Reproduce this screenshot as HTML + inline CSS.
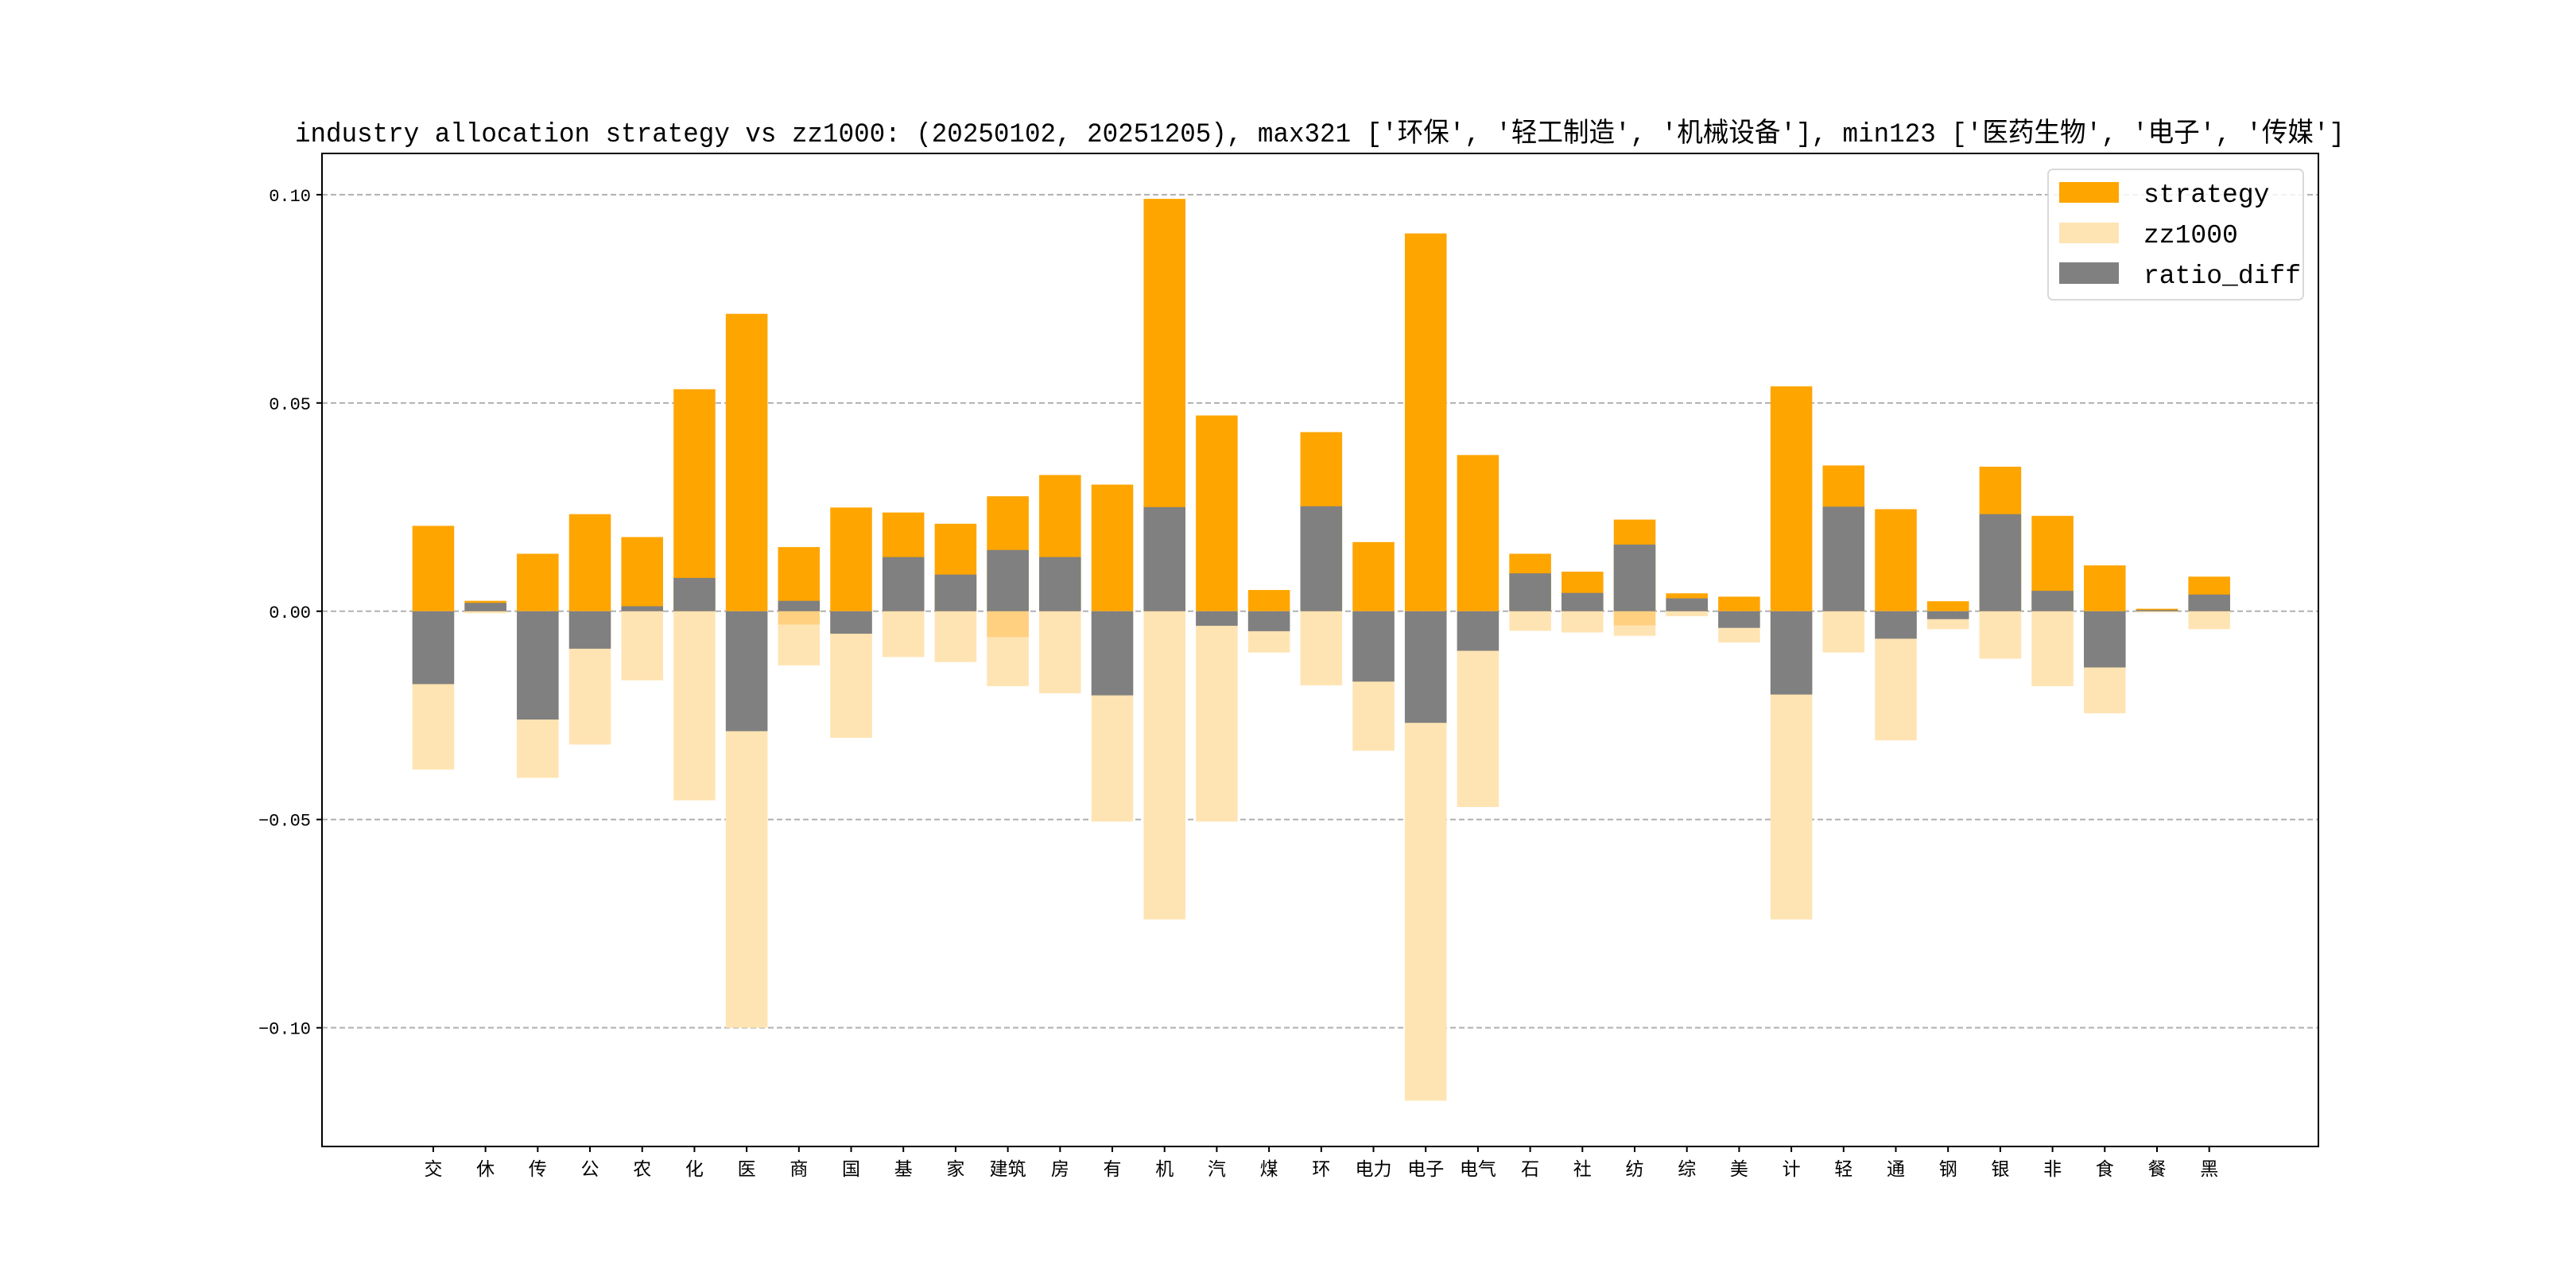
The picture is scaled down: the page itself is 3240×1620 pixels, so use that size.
<!DOCTYPE html>
<html><head><meta charset="utf-8">
<style>
html,body{margin:0;padding:0;background:#fff;}
svg{display:block;}
text{font-family:"Liberation Mono","Noto Sans CJK SC",monospace;}
</style></head>
<body>
<svg id="chart" width="3240" height="1620" viewBox="0 0 3240 1620" xmlns="http://www.w3.org/2000/svg">
<rect width="3240" height="1620" fill="#fff"/>
<text x="1660" y="178" text-anchor="middle" font-size="34" textLength="2578" lengthAdjust="spacingAndGlyphs">industry allocation strategy vs zz1000: (20250102, 20251205), max321 ['环保', '轻工制造', '机械设备'], min123 ['医药生物', '电子', '传媒']</text>
<g id="grid"></g>
<g id="bars"></g>
<g id="axes"></g>
<g>
<rect x="2576" y="213" width="321" height="164" rx="6" fill="#fff" fill-opacity="0.85" stroke="#d9d9d9" stroke-width="2"/>
<rect x="2590" y="229" width="75" height="26" fill="#FFA500"/>
<text x="2696" y="254" font-size="33">strategy</text>
<rect x="2590" y="280" width="75" height="26" fill="#FFE4B3"/>
<text x="2696" y="305" font-size="33">zz1000</text>
<rect x="2590" y="330" width="75" height="27" fill="#808080"/>
<text x="2696" y="356" font-size="33">ratio_diff</text>
</g>
</svg>
<script>
const categories = ["交","休","传","公","农","化","医","商","国","基","家","建筑","房","有","机","汽","煤","环","电力","电子","电气","石","社","纺","综","美","计","轻","通","钢","银","非","食","餐","黑"];
const strategyValues = [0.0205,0.0025,0.0138,0.0233,0.0178,0.0533,0.0714,0.0154,0.0249,0.0237,0.021,0.0276,0.0327,0.0304,0.099,0.047,0.0051,0.043,0.0166,0.0907,0.0375,0.0138,0.0095,0.022,0.0043,0.0035,0.054,0.035,0.0245,0.0024,0.0347,0.0229,0.011,0.0006,0.0083];
const zz1000Values = [0.038,0.0005,0.040,0.032,0.0166,0.0454,0.100,0.013,0.0304,0.011,0.0122,0.018,0.0197,0.0505,0.074,0.0505,0.0099,0.0178,0.0335,0.1175,0.047,0.0047,0.0051,0.0059,0.0012,0.0075,0.074,0.0099,0.031,0.0043,0.0114,0.018,0.0245,0.0003,0.0043];
const ratioDiffValues = [-0.0175,0.002,-0.026,-0.009,0.0012,0.008,-0.0288,0.0025,-0.0054,0.013,0.0088,0.0147,0.013,-0.0202,0.025,-0.0035,-0.0048,0.0252,-0.0169,-0.0268,-0.0095,0.0091,0.0044,0.016,0.0031,-0.004,-0.020,0.0251,-0.0066,-0.0019,0.0233,0.0049,-0.0135,0.0003,0.004];
const overlapValues = [0,0,0,0,0,0,0,0.0032,0,0,0,0.0062,0,0,0,0,0,0,0,0,0,0,0,0.0034,0,0,0,0,0,0,0,0,0,0,0];
const yTicks = [0.10,0.05,0.00,-0.05,-0.10];
const yTickLabels = ["0.10","0.05","0.00","−0.05","−0.10"];

const NS = "http://www.w3.org/2000/svg";
const L = 405, R = 2916, T = 193, B = 1442;
const xMin = -2.13, xMax = categories.length - 1 + 2.09;
const yMin = -0.1285, yMax = 0.1099;
function xs(i){ return L + (i - xMin) / (xMax - xMin) * (R - L); }
function ys(v){ return B - (v - yMin) / (yMax - yMin) * (B - T); }
function mk(tag, attrs, parent){ const e = document.createElementNS(NS, tag); for (const k in attrs) e.setAttribute(k, attrs[k]); parent.appendChild(e); return e; }

const grid = document.getElementById('grid');
const bars = document.getElementById('bars');
const axes = document.getElementById('axes');

yTicks.forEach((v, k) => {
  const gl = mk('line', {x1:L, x2:R, y1:ys(v), y2:ys(v), stroke:'#b0b0b0', 'stroke-width':2, 'stroke-dasharray':'7,4'}, grid);
  
  
  const tk = mk('line', {x1:L-7, x2:L, y1:ys(v), y2:ys(v), stroke:'#000', 'stroke-width':2}, axes);
  
  
  const tl = mk('text', {x:L-14, y:ys(v)+8, 'text-anchor':'end', 'font-size':22}, axes);
  tl.textContent = yTickLabels[k];
  
  
});

const bw = 0.8 * (xs(1) - xs(0));
categories.forEach((c, i) => {
  const cx = xs(i);
  const s = strategyValues[i], z = zz1000Values[i], d = ratioDiffValues[i], o = overlapValues[i];
  const r1 = mk('rect', {x:cx-bw/2, y:ys(s), width:bw, height:ys(0)-ys(s), fill:'#FFA500'}, bars);
  
  
  const r2 = mk('rect', {x:cx-bw/2, y:ys(0), width:bw, height:ys(-z)-ys(0), fill:'#FFE4B3'}, bars);
  
  
  if (o > 0) {
    const r4 = mk('rect', {x:cx-bw/2, y:ys(0), width:bw, height:ys(-o)-ys(0), fill:'#FFD080'}, bars);
    
    
  }
  const top = Math.max(d, 0), bot = Math.min(d, 0);
  const r3 = mk('rect', {x:cx-bw/2, y:ys(top), width:bw, height:ys(bot)-ys(top), fill:'#808080'}, bars);
  
  
  const tk = mk('line', {x1:cx, x2:cx, y1:B, y2:B+7, stroke:'#000', 'stroke-width':2}, axes);
  
  
  const tl = mk('text', {x:cx, y:B+36, 'text-anchor':'middle', 'font-size':23}, axes);
  tl.textContent = c;
  
  
});

const frame = mk('rect', {x:L, y:T, width:R-L, height:B-T, fill:'none', stroke:'#000', 'stroke-width':2}, axes);


</script>
</body></html>
